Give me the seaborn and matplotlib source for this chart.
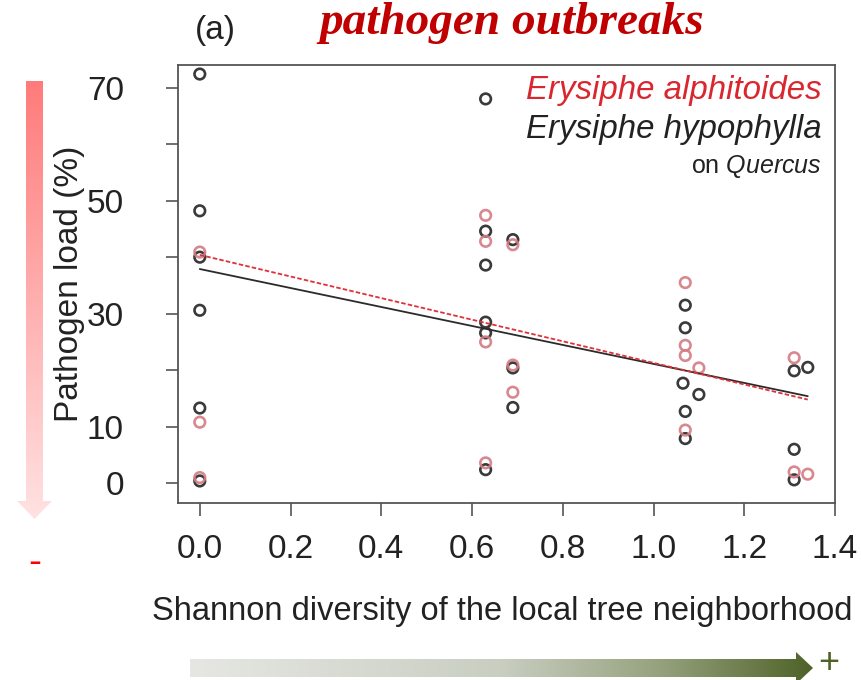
import numpy as np
import pandas as pd
import matplotlib
matplotlib.use("Agg")
import matplotlib.pyplot as plt
import seaborn as sns
from matplotlib.patches import Polygon
from matplotlib.colors import LinearSegmentedColormap

# values: Shannon diversity (x) vs pathogen load in % (y)
alph_x = [0.0, 0.0, 0.0, 0.63, 0.63, 0.63, 0.63, 0.69, 0.69, 0.69,
          1.07, 1.07, 1.07, 1.07, 1.10, 1.31, 1.31, 1.34]
alph_y = [40.9, 10.8, 1.0, 47.4, 42.8, 25.0, 3.6, 42.2, 20.9, 16.1,
          35.5, 24.4, 22.6, 9.4, 20.4, 22.2, 2.0, 1.6]

hypo_x = [0.0, 0.0, 0.0, 0.0, 0.0, 0.0, 0.63, 0.63, 0.63, 0.63, 0.63, 0.63,
          0.69, 0.69, 0.69, 1.07, 1.07, 1.07, 1.07, 1.065, 1.10, 1.31, 1.31, 1.31, 1.34]
hypo_y = [72.4, 48.2, 40.0, 30.6, 13.3, 0.4, 68.0, 44.6, 38.6, 28.5, 26.6, 2.4,
          43.1, 20.4, 13.4, 31.5, 27.5, 12.7, 7.9, 17.7, 15.7, 19.9, 6.0, 0.6, 20.5]

# fitted lines (end points)
fit_x = [0.0, 1.34]
alph_fit = [40.4, 14.8]
hypo_fit = [37.9, 15.4]

xticks = [0.0, 0.2, 0.4, 0.6, 0.8, 1.0, 1.2, 1.4]
xlabels = ["0.0", "0.2", "0.4", "0.6", "0.8", "1.0", "1.2", "1.4"]
yticks = [0, 10, 20, 30, 40, 50, 60, 70]
ylabels = ["0", "10", "", "30", "", "50", "", "70"]

red_pt = "#d47c84"
blk_pt = "#3a3a3a"

sns.set_style("ticks")
plt.rcParams["font.family"] = ["Liberation Sans", "DejaVu Sans"]
plt.rcParams["mathtext.fontset"] = "custom"
plt.rcParams["mathtext.rm"] = "Liberation Sans"
plt.rcParams["mathtext.it"] = "Liberation Sans:italic"

W, H = 862, 680
fig = plt.figure(figsize=(W / 100, H / 100), dpi=100)
ax = fig.add_axes([178 / W, 1 - 503 / H, 657 / W, 438 / H])

hypo = pd.DataFrame({"x": hypo_x, "y": hypo_y})
alph = pd.DataFrame({"x": alph_x, "y": alph_y})

sns.lineplot(x=fit_x, y=hypo_fit, ax=ax, color="#2b2b2b", lw=1.3)
sns.lineplot(x=fit_x, y=alph_fit, ax=ax, color="#e0303a", lw=1.3, linestyle=(0, (2.5, 1.2)))
sns.scatterplot(data=hypo, x="x", y="y", ax=ax, marker="o", s=58,
                facecolor="none", edgecolor=blk_pt, linewidth=1.9)
sns.scatterplot(data=alph, x="x", y="y", ax=ax, marker="o", s=58,
                facecolor="none", edgecolor=red_pt, linewidth=1.9, alpha=0.9)

ax.set_xlim(-0.048, 1.4)
ax.set_ylim(-3.5, 74)
ax.set_xticks(xticks)
ax.set_xticklabels(xlabels)
ax.set_yticks(yticks)
ax.set_yticklabels(ylabels)
for sp in ax.spines.values():
    sp.set_color("#555555")
    sp.set_linewidth(1.3)
ax.tick_params(axis="both", direction="out", length=9, width=1.2, color="#555555",
               labelcolor="#222222", labelsize=24)
ax.tick_params(axis="y", pad=30)
ax.tick_params(axis="x", pad=13)

ax.set_xlabel("Shannon diversity of the local tree neighborhood", fontsize=23.5, color="#222222")
ax.set_ylabel("Pathogen load (%)", fontsize=24, color="#222222")
ax.xaxis.set_label_coords(0.493, -0.212)
ax.yaxis.set_label_coords(-0.142, 0.5)

# legend-like labels in the top right corner
ax.text(0.98, 0.978, "Erysiphe alphitoides", transform=ax.transAxes, ha="right", va="top",
        fontsize=23.8, style="italic", color="#d9262f")
ax.text(0.98, 0.888, "Erysiphe hypophylla", transform=ax.transAxes, ha="right", va="top",
        fontsize=23.8, style="italic", color="#222222")
ax.text(0.98, 0.798, r"on $\it{Quercus}$", transform=ax.transAxes, ha="right", va="top",
        fontsize=18, color="#222222")

fig.text(215 / W, 1 - 30 / H, "(a)", fontsize=24, ha="center", va="center", color="#222222")
fig.text(512 / W, 1 - 34 / H, "pathogen outbreaks", fontsize=34, ha="center", va="baseline",
         family="Liberation Serif", weight="bold", style="italic", color="#c00000")

# gradient arrows drawn in pixel coordinates on an overlay
ov = fig.add_axes([0, 0, 1, 1], zorder=-1)
ov.set_xlim(0, W)
ov.set_ylim(H, 0)
ov.axis("off")

red_cmap = LinearSegmentedColormap.from_list("r", ["#ff7b7b", "#ffe2e2"])
vert = Polygon([(26, 81), (43, 81), (43, 501), (52, 501), (34.5, 519), (17, 501), (26, 501)],
               closed=True, fc="none", ec="none")
ov.add_patch(vert)
im = ov.imshow(np.linspace(0, 1, 256).reshape(-1, 1), cmap=red_cmap, aspect="auto",
               extent=(17, 52, 519, 81))
im.set_clip_path(vert)
fig.text(34.5 / W, 1 - 563 / H, "-", fontsize=28, color="#ff0000", ha="center", va="center")

green_cmap = LinearSegmentedColormap.from_list(
    "g", [(0, "#e6e7e3"), (0.5, "#c9cec1"), (0.75, "#97a37f"), (1, "#4f6228")])
horiz = Polygon([(190, 659), (796, 659), (796, 652), (813, 668), (796, 684), (796, 677), (190, 677)],
                closed=True, fc="none", ec="none")
ov.add_patch(horiz)
im2 = ov.imshow(np.linspace(0, 1, 256).reshape(1, -1), cmap=green_cmap, aspect="auto",
                extent=(190, 813, 684, 652))
im2.set_clip_path(horiz)
fig.text(829 / W, 1 - 663 / H, "+", fontsize=26, color="#4f6228", ha="center", va="center")
ov.set_xlim(0, W)
ov.set_ylim(H, 0)

fig.savefig("out.png", dpi=100)
